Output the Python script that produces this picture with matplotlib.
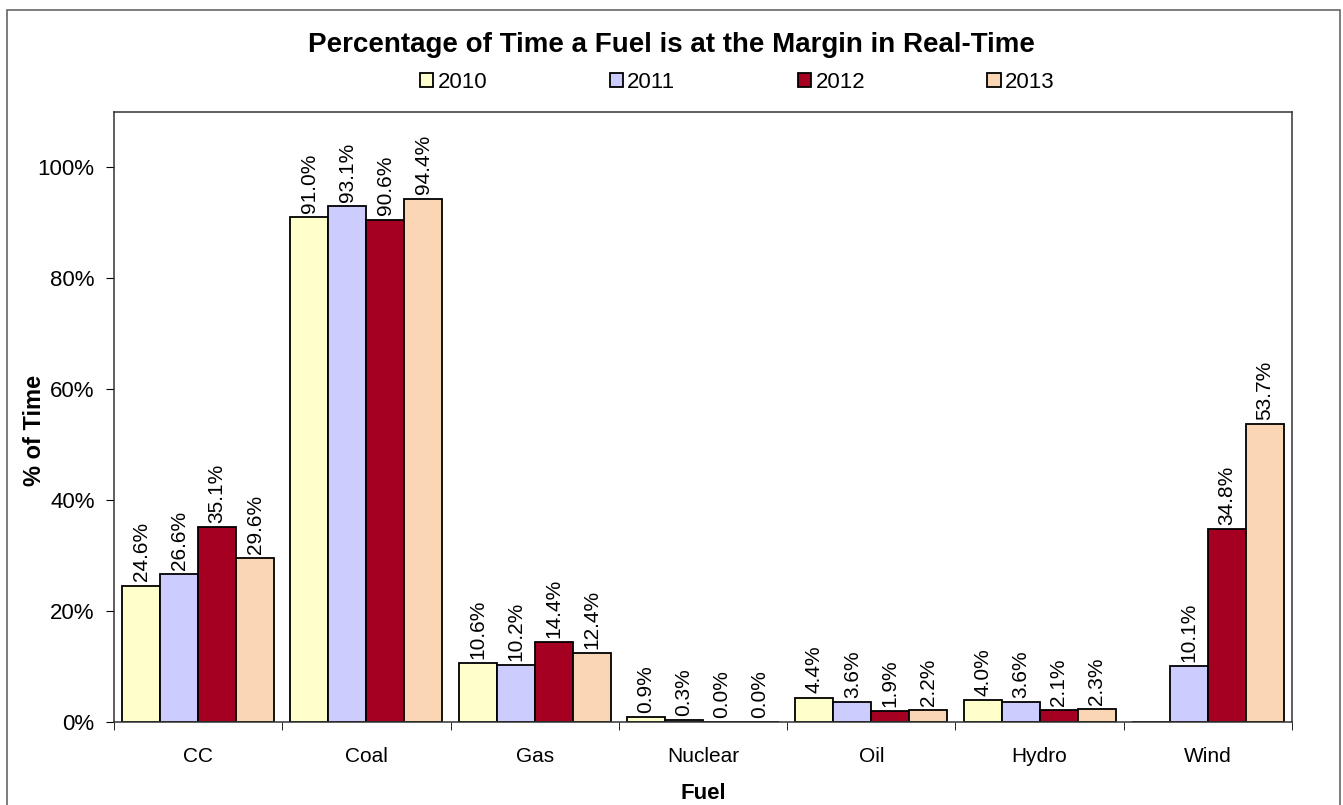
import numpy as np
import matplotlib.pyplot as plt
from matplotlib.patches import Rectangle

plt.rcParams['font.family'] = ['Liberation Sans', 'DejaVu Sans']

fuels = ['CC', 'Coal', 'Gas', 'Nuclear', 'Oil', 'Hydro', 'Wind']
years = ['2010', '2011', '2012', '2013']
pct_2010 = [24.6, 91.0, 10.6, 0.9, 4.4, 4.0, np.nan]
pct_2011 = [26.6, 93.1, 10.2, 0.3, 3.6, 3.6, 10.1]
pct_2012 = [35.1, 90.6, 14.4, 0.0, 1.9, 2.1, 34.8]
pct_2013 = [29.6, 94.4, 12.4, 0.0, 2.2, 2.3, 53.7]
colors = ['#FFFFCC', '#CCCCFF', '#A50021', '#FAD6B4']


def main():
    fig = plt.figure(figsize=(13.43, 8.05), dpi=100)
    ax = fig.add_axes([114 / 1343, 1 - 722 / 805, 1178 / 1343, 610 / 805])

    # chart border around everything
    fig.patches.append(Rectangle((7 / 1343, -0.01), 1333 / 1343, 1 - 10 / 805 + 0.01,
                                 transform=fig.transFigure, fill=False,
                                 edgecolor='#666666', linewidth=1.2))

    x = np.arange(len(fuels))
    width = 0.226
    series = [pct_2010, pct_2011, pct_2012, pct_2013]
    for i, (vals, c, yr) in enumerate(zip(series, colors, years)):
        pos = x + (i - 1.5) * width
        v = np.array(vals, dtype=float)
        ax.bar(pos, np.nan_to_num(v), width, color=c, edgecolor='black',
               linewidth=1.3, label=yr)
        for p, val in zip(pos, v):
            if np.isnan(val):
                continue
            ax.annotate(f'{val:.1f}%', (p, val), xytext=(0, 3), textcoords='offset points',
                        rotation=90, ha='center', va='bottom', fontsize=15)

    ax.set_xlim(-0.5, len(fuels) - 0.5)
    ax.set_ylim(0, 110)
    ax.set_yticks(range(0, 101, 20))
    ax.set_yticklabels([f'{t}%' for t in range(0, 101, 20)], fontsize=16)
    ax.set_xticks(x)
    ax.set_xticklabels(fuels, fontsize=15)
    ax.set_xticks(np.arange(-0.5, len(fuels), 1), minor=True)
    ax.tick_params(axis='x', which='major', length=0, pad=18)
    ax.tick_params(axis='x', which='minor', length=6, direction='out')
    ax.tick_params(axis='y', length=6, pad=8)
    for s in ax.spines.values():
        s.set_linewidth(1.1)
        s.set_color('#333333')

    ax.set_ylabel('% of Time', fontsize=17, fontweight='bold')
    ax.yaxis.set_label_coords(-0.058, 0.478)
    ax.set_xlabel('Fuel', fontsize=16, fontweight='bold', labelpad=12)

    fig.text(0.5, 1 - 45 / 805, 'Percentage of Time a Fuel is at the Margin in Real-Time',
             ha='center', va='center', fontsize=20, fontweight='bold',
             family=['Liberation Sans Narrow', 'Liberation Sans', 'DejaVu Sans'])

    fig.legend(loc='center', bbox_to_anchor=(0.549, 1 - 82 / 805), ncol=4, frameon=False,
               fontsize=16, handlelength=0.6, handleheight=0.6, handletextpad=0.2,
               columnspacing=5.5)

    fig.savefig('out.png', dpi=100)


if __name__ == "__main__":
    main()
